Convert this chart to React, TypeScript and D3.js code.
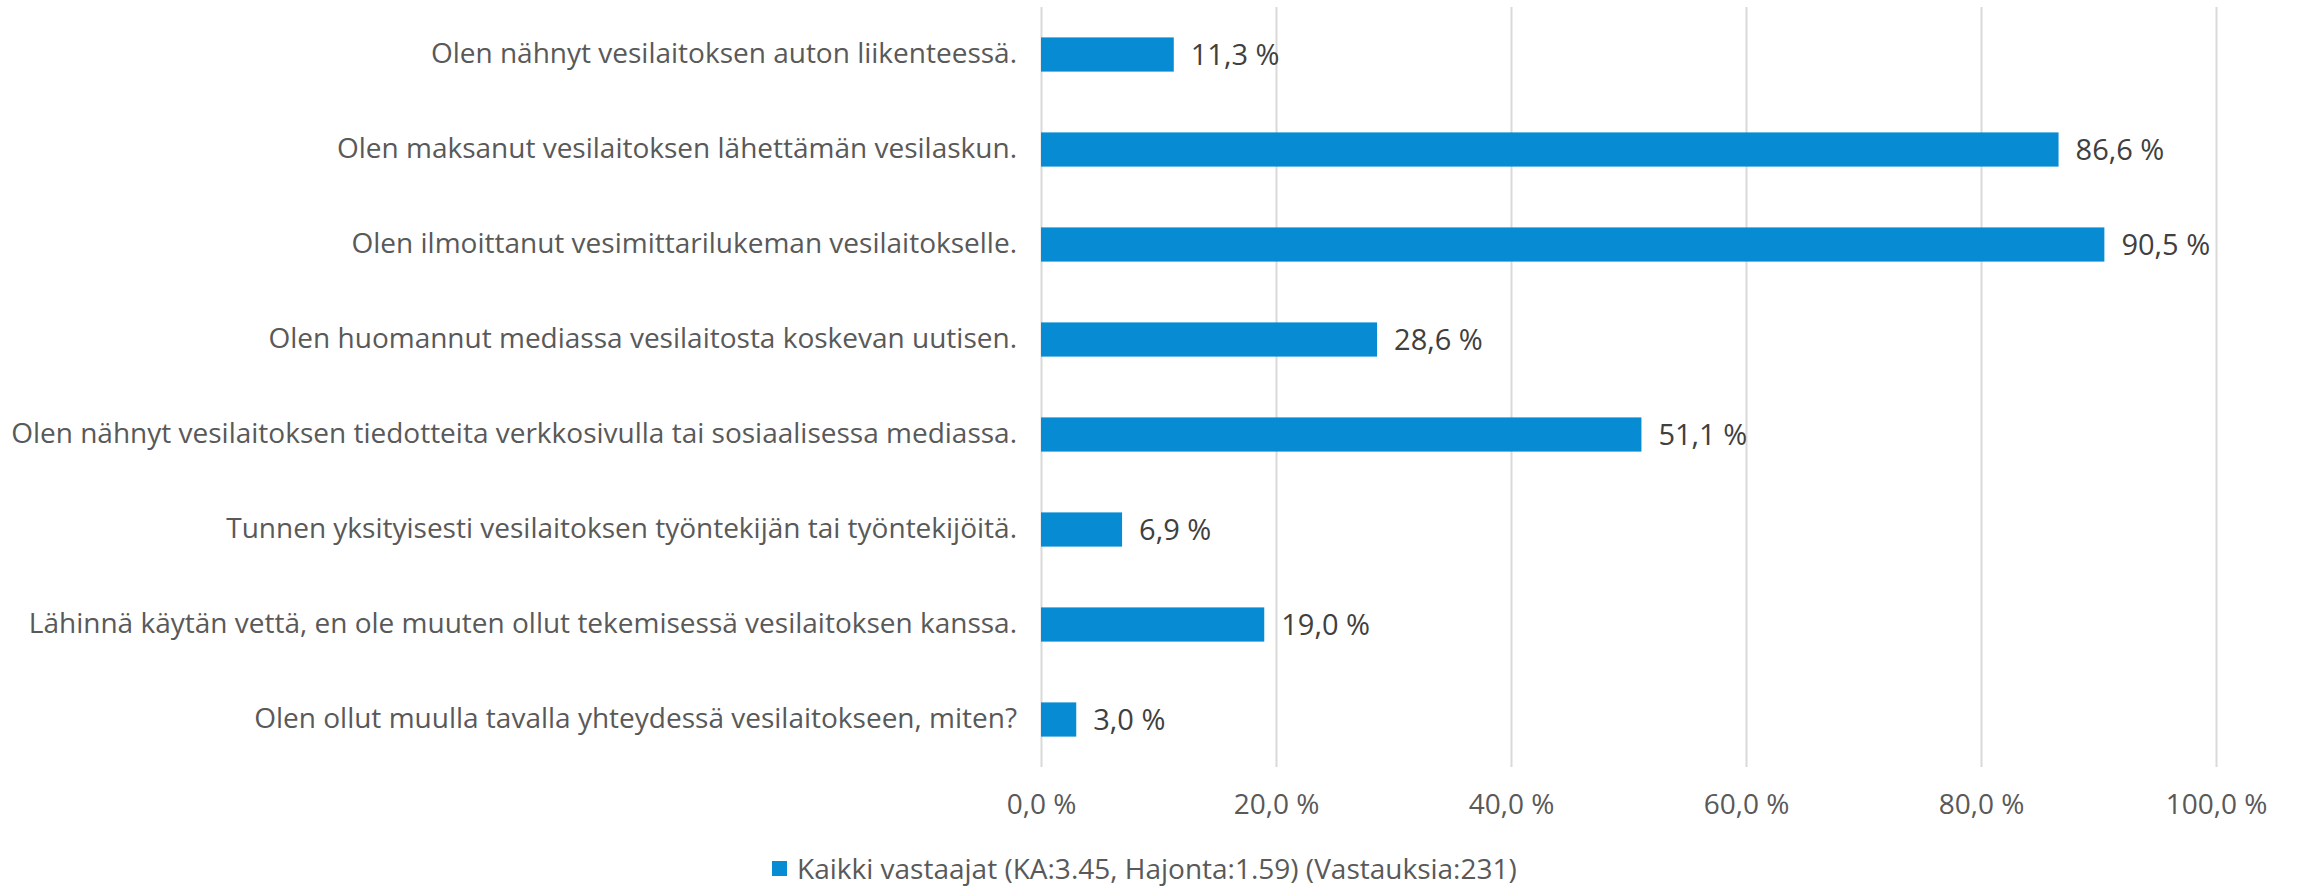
import React from "react";
import * as d3 from "d3";

const categories = [
  "Olen nähnyt vesilaitoksen auton liikenteessä.",
  "Olen maksanut vesilaitoksen lähettämän vesilaskun.",
  "Olen ilmoittanut vesimittarilukeman vesilaitokselle.",
  "Olen huomannut mediassa vesilaitosta koskevan uutisen.",
  "Olen nähnyt vesilaitoksen tiedotteita verkkosivulla tai sosiaalisessa mediassa.",
  "Tunnen yksityisesti vesilaitoksen työntekijän tai työntekijöitä.",
  "Lähinnä käytän vettä, en ole muuten ollut tekemisessä vesilaitoksen kanssa.",
  "Olen ollut muulla tavalla yhteydessä vesilaitokseen, miten?",
];
const values = [11.3, 86.6, 90.5, 28.6, 51.1, 6.9, 19.0, 3.0];
const xTicks = [0, 20, 40, 60, 80, 100];
const legendLabel = "Kaikki vastaajat (KA:3.45, Hajonta:1.59) (Vastauksia:231)";

const W = 2297;
const H = 886;
const margin = { top: 7, left: 1041, right: 81, bottom: 119 };
const barColor = "#078cd4";
const font = "'Open Sans', sans-serif";

const fmt = (v: number) => d3.format(".1f")(v).replace(".", ",") + " %";

const App = () => {
  const svgRef = React.useRef<SVGSVGElement>(null);

  React.useEffect(() => {
    const width = W - margin.left - margin.right;
    const height = H - margin.top - margin.bottom;

    const x = d3.scaleLinear().domain([0, 100]).range([0, width]);
    const y = d3.scaleBand().domain(categories).range([0, height]).paddingInner(0.64).paddingOuter(0.32);

    const svgEl = d3.select(svgRef.current);
    svgEl.selectAll("*").remove();
    const svg = svgEl.append("g").attr("transform", `translate(${margin.left},${margin.top})`);

    // grid lines + tick labels
    const xAxis = d3.axisBottom(x).tickValues(xTicks).tickSize(-height).tickPadding(27).tickFormat((d) => fmt(+d));
    const xg = svg.append("g").attr("transform", `translate(0,${height})`).call(xAxis);
    xg.select(".domain").remove();
    xg.selectAll("line").attr("stroke", "#d9d9d9").attr("stroke-width", 2);
    xg.selectAll("text")
      .attr("font-family", font)
      .attr("font-size", 28)
      .attr("fill", "#595959");

    // category labels
    const yAxis = d3.axisLeft(y).tickSize(0).tickPadding(24);
    const yg = svg.append("g").call(yAxis);
    yg.select(".domain").remove();
    yg.selectAll("text")
      .attr("font-family", font)
      .attr("font-size", 28)
      .attr("fill", "#595959");

    const rows = categories.map((c, i) => ({ c, v: values[i] }));

    svg.selectAll(".bar")
      .data(rows)
      .enter()
      .append("rect")
      .attr("x", 0)
      .attr("y", (d) => y(d.c)!)
      .attr("width", (d) => x(d.v))
      .attr("height", y.bandwidth())
      .attr("fill", barColor);

    svg.selectAll(".val")
      .data(rows)
      .enter()
      .append("text")
      .attr("x", (d) => x(d.v) + 17)
      .attr("y", (d) => y(d.c)! + y.bandwidth() / 2)
      .attr("dy", "0.35em")
      .attr("font-family", font)
      .attr("font-size", 29)
      .attr("fill", "#404040")
      .text((d) => fmt(d.v));

    // legend
    const lg = svgEl.append("g").attr("transform", `translate(772,869)`);
    lg.append("rect").attr("x", 0).attr("y", -8).attr("width", 15).attr("height", 15).attr("fill", barColor);
    lg.append("text")
      .attr("x", 25)
      .attr("y", 0)
      .attr("dy", "0.35em")
      .attr("font-family", font)
      .attr("font-size", 28)
      .attr("fill", "#595959")
      .text(legendLabel);
  }, []);

  return (
    <svg
      ref={svgRef}
      width={W}
      height={H}
      style={{ position: "absolute", left: 0, top: 0, background: "#fff" }}
    />
  );
};

export default App;
